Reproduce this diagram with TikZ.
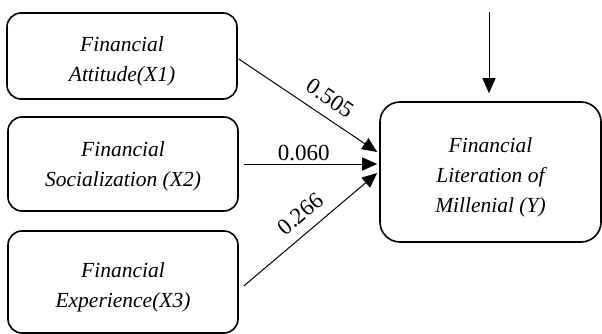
\documentclass[tikz,border=0pt]{standalone}
\usepackage{fontspec}
\setmainfont{Liberation Serif}
\usetikzlibrary{arrows.meta,calc}
\newcommand{\mytopstrut}{\rule{0pt}{21.5pt}}
\begin{document}
\begin{tikzpicture}[x=1pt,y=-1pt,
  box/.style={draw,line width=1.6pt,rounded corners=14pt,align=center,
    font=\fontsize{21.5}{30}\selectfont\itshape,inner sep=0pt,text depth=0pt},
  arr/.style={line width=1pt,-{Triangle[length=15pt,width=13pt]}},
  lab/.style={font=\fontsize{23}{26}\selectfont,inner sep=2pt}]
\useasboundingbox (0,0) rectangle (602,334);
\node[box,minimum width=230pt,minimum height=86pt] (b1) at (122,56) {\mytopstrut Financial\\Attitude(X1)};
\node[box,minimum width=230pt,minimum height=94pt] (b2) at (123,164) {Financial\\Socialization (X2)};
\node[box,minimum width=230pt,minimum height=102pt] (b3) at (123,282) {\mytopstrut Financial\\Experience(X3)};
\node[box,rounded corners=20pt,minimum width=221pt,minimum height=140pt] (y) at (490.5,172) {\mytopstrut Financial\\Literation of\\Millenial (Y)};
\coordinate (top) at (489,12);
\draw[arr] ([xshift=1pt,yshift=-3pt]b1.east) -- node[lab,pos=0.585,sloped,above=8pt] {0.505} ([xshift=-2pt,yshift=20pt]y.west);
\draw[arr] ([xshift=5pt]b2.east) -- node[lab,pos=0.45,above=1pt] {0.060} ([xshift=-2pt,yshift=8pt]y.west);
\draw[arr] ([xshift=5pt,yshift=-4pt]b3.east) -- node[lab,pos=0.515,sloped,above=8pt] {0.266} ([xshift=-2pt,yshift=-1pt]y.west);
\draw[arr] (top) -- ([xshift=-1.5pt,yshift=8pt]y.north);
\end{tikzpicture}
\end{document}
